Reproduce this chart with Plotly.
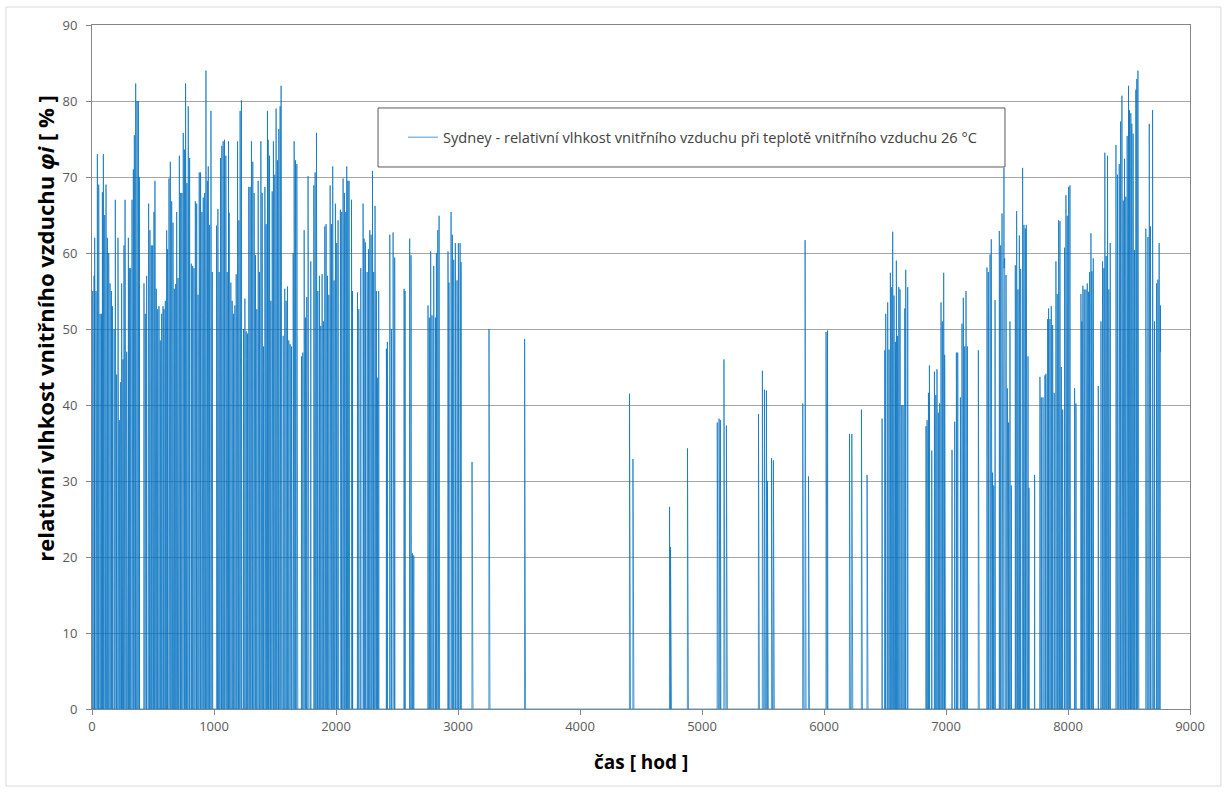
import numpy as np
import plotly.graph_objects as go

# Hourly indoor relative humidity, Sydney, indoor air held at 26 °C.
# Each operating interval starts at spike_hour with spike_peak, the next hour
# holds spike_low, and all other hours of the year are 0 %.
spike_hour = [
    6, 17, 22, 33, 44, 55, 66, 77, 85, 93, 104, 115, 126, 137, 148, 159, 167, 181, 191, 202,
    213, 224, 235, 243, 254, 262, 271, 284, 298, 306, 317, 328, 339, 347, 358, 369, 380, 388,
    426, 437, 448, 464, 475, 486, 497, 508, 516, 527, 538, 549, 560, 571, 582, 590, 601, 612,
    620, 631, 642, 653, 664, 675, 686, 694, 705, 716, 727, 737, 748, 759, 767, 778, 789, 800,
    814, 825, 836, 847, 858, 869, 879, 890, 901, 912, 923, 934, 945, 953, 964, 975, 986,
    1021, 1032, 1042, 1053, 1064, 1075, 1086, 1097, 1108, 1119, 1124, 1138, 1149, 1160, 1171,
    1182, 1193, 1204, 1214, 1225, 1242, 1253, 1264, 1275, 1285, 1296, 1307, 1318, 1329, 1340,
    1351, 1362, 1373, 1384, 1395, 1406, 1417, 1427, 1438, 1444, 1455, 1466, 1477, 1487, 1498,
    1509, 1520, 1531, 1542, 1550, 1567, 1580, 1591, 1602, 1613, 1624, 1635, 1649, 1657, 1668,
    1679, 1717, 1728, 1739, 1750, 1760, 1771, 1793, 1818, 1829, 1840, 1851, 1864, 1875, 1886,
    1897, 1908, 1919, 1930, 1941, 1952, 1963, 1973, 1984, 1995, 2006, 2017,
    2036, 2047, 2058, 2069, 2080, 2088, 2097, 2107, 2127, 2135, 2176, 2187, 2203, 2222, 2230,
    2241, 2255, 2266, 2277, 2288, 2299, 2309, 2320, 2331, 2339, 2350, 2413, 2421, 2441, 2454,
    2468, 2481, 2558, 2566, 2604, 2615, 2626, 2637, 2754, 2765, 2776, 2787, 2801, 2815, 2823,
    2834, 2845, 2918, 2926, 2943, 2954, 2965, 2978, 2992, 3003, 3017, 3025, 3115,
    3254, 3546, 4406, 4434, 4734, 4742, 4881, 5125, 5140, 5150, 5180, 5200,
    5463, 5495, 5512, 5528, 5536, 5570, 5585, 5826, 5845, 5873, 6017, 6028, 6209, 6228, 6307, 6353,
    6476, 6498, 6506, 6522, 6533, 6544, 6555, 6563, 6574, 6585, 6593, 6602, 6613, 6623, 6637,
    6648, 6662, 6670, 6686, 6836, 6845, 6856, 6864, 6883, 6905, 6916, 6926, 6937, 6948, 6959,
    6970, 6981, 6989, 7049, 7071, 7085, 7096, 7118, 7131, 7142, 7153, 7164, 7175, 7265,
    7336, 7347, 7361, 7371, 7382, 7391, 7402, 7437, 7448, 7459, 7470, 7475, 7481, 7492, 7503,
    7513, 7524, 7535, 7568, 7579, 7590, 7601, 7612, 7628, 7639, 7650, 7658, 7672, 7680, 7726,
    7770, 7781, 7795, 7811, 7819, 7833, 7841, 7852, 7863, 7874, 7887, 7901, 7912, 7923, 7934,
    7945, 7956, 7972, 7983, 7994, 8005, 8016, 8054, 8065, 8106, 8114, 8122, 8133, 8147, 8158,
    8169, 8177, 8188, 8196, 8207, 8248, 8270, 8283, 8294, 8302, 8313, 8324, 8335, 8346, 8393,
    8406, 8420, 8431, 8442, 8453, 8463, 8474, 8485, 8496, 8504, 8515, 8523, 8534, 8545, 8556,
    8564, 8573, 8638, 8655, 8666, 8676, 8693, 8709, 8726, 8737, 8747, 8758,
]

spike_peak = [
    55, 57, 62, 55, 73, 69, 52, 52, 68, 73, 65, 69, 62, 60, 56, 55, 53, 50, 67, 44,
    62, 38, 43, 56, 46, 61, 67, 47, 62, 58, 58, 67, 71, 75.5, 82.3, 80, 80, 70,
    56, 52, 57, 66.5, 63, 61, 61, 65.4, 69.5, 55.3, 52.6, 53, 48.5, 52, 53, 52.6, 53.7, 63,
    60.5, 69.8, 72, 66.8, 64, 55.3, 55.9, 65.4, 56.7, 72.8, 67.9, 67.9, 75.8, 73.6, 82.3, 69.2, 79.3, 72.5,
    58.6, 58.3, 58, 66.8, 66.5, 54.5, 70.6, 70.6, 65.4, 67.3, 67.9, 84, 69.5, 71.4, 63.7, 78.7, 57.5,
    63.6, 65.8, 57.5, 72.5, 74.1, 74.7, 74.9, 72.8, 57.5, 74.7, 65.3, 56.1, 53.7, 52, 53.1,
    57.2, 74.7, 64.3, 78.7, 80.1, 50, 54, 49.7, 49.4, 68.7, 68.7, 74.7, 72, 67.9, 59.7,
    52.6, 69.5, 57.5, 74.7, 67.9, 47.7, 68.7, 63.8, 78.7, 74.9, 72.8, 53.7, 68.1, 74.7, 70.3,
    79, 72.2, 76.3, 79.3, 82, 49.1, 55.3, 53.7, 55.6, 48.5, 48, 47.7, 60, 74.7, 72.2,
    71.7, 46.4, 46.9, 63, 51.5, 54.2, 70.1, 58.9, 68.9, 70.6, 75.8, 55, 57, 50.4, 57.2,
    51, 63.5, 63.8, 57, 54.5, 68.9, 63.8, 71.4, 56.4, 66.5, 61.3, 64.3,
    65.7, 65.4, 69.8, 67.9, 65.4, 71.4, 69.5, 69.5, 67, 55, 54.8, 52.6, 58, 66.5, 61.9,
    61.4, 57.5, 60.5, 63, 62.4, 70.8, 57.5, 66.2, 55, 43.6, 55, 47.4, 48.3, 62.4, 50,
    62.7, 59.4, 55.3, 55, 61.9, 59.7, 20.5, 20.2, 53.1, 51.5, 60.2, 51.8, 58.3, 51.5, 60,
    63, 64.9, 60.2, 56.1, 65.4, 62.4, 59.1, 61.3, 56.4, 61.3, 61.3, 58.8, 32.5,
    50, 48.7, 41.5, 32.9, 26.6, 21.3, 34.3, 37.7, 38.2, 38, 46, 37.3,
    38.8, 44.5, 42, 41.9, 30, 33, 32.7, 40.2, 61.7, 30.6, 49.6, 49.8, 36.2, 36.2, 39.4, 30.8,
    38.2, 47.2, 52, 53.5, 47.3, 57.4, 55.5, 62.8, 54.4, 48.3, 59, 49.1, 55.5, 55.2, 40,
    40, 52.7, 57.8, 55.5, 37.2, 38, 41.6, 45.2, 34, 44.4, 41.3, 44.7, 39, 40.2, 53.5,
    51, 57.4, 46.6, 34.1, 37.8, 46.9, 46.9, 41, 50.7, 54.1, 47.7, 55, 47.7, 47.2,
    58.1, 57.5, 59.8, 61.8, 31.1, 29.4, 53.8, 62.9, 61, 65.2, 66.8, 71.2, 59.3, 57.1, 42.2,
    37.7, 51, 29.4, 58.4, 65.5, 55.2, 62.3, 57.9, 71.2, 63.7, 63.2, 63.7, 46.4, 29.1, 30.8,
    43.7, 41, 41, 43.9, 44.1, 51.3, 52.7, 51.3, 53, 50.5, 41.6, 58.9, 54.6, 64.3, 64.2,
    45, 39.4, 60.7, 67.6, 64.9, 68.7, 68.9, 42.2, 40.2, 54.6, 51, 55.7, 55.2, 55.2, 56,
    54.9, 57.5, 62.6, 57.6, 59.3, 42.5, 51, 58.9, 58, 73.2, 59.6, 72.8, 55.2, 61.3, 74.2,
    70.3, 71.7, 77.3, 80.7, 66.9, 72.4, 67.4, 75.4, 82, 78.8, 78.4, 77, 75.7, 60.4, 81.5,
    82.9, 84, 63.2, 62.1, 77, 63.5, 78.8, 51, 56, 56.5, 61.3, 53.1,
]

spike_low = [
    50, 52, 55, 39, 64, 62, 50, 49, 60, 65, 57, 62, 58, 55, 52, 51, 50, 48, 58, 34,
    50, 36, 37, 46, 40, 52, 58, 36, 55, 54, 53, 55, 55, 56, 70, 72, 70, 62,
    50, 44, 50, 58, 55, 54, 52, 58, 60, 50, 48, 49, 45, 48, 49, 48, 50, 55,
    54, 60, 62, 58, 56, 50, 50, 57, 52, 62, 58, 60, 64, 62, 68, 58, 66, 58,
    52, 52, 52, 58, 52, 50, 60, 52, 56, 58, 56, 66, 58, 60, 44.7, 64, 52,
    55, 57, 52, 62, 64, 72, 66, 58, 52, 62, 58, 52, 50, 49, 50,
    52, 55, 56, 48, 66, 47, 50, 46, 46, 58, 53, 52, 62, 58, 54,
    49, 52, 52, 60, 58, 45, 58, 55, 64, 70, 62, 50, 58, 48, 47,
    62, 60, 50, 60, 53, 46, 50, 50, 50, 45, 39.5, 44, 50.7, 62, 64,
    62, 44, 44, 55, 48, 50, 47, 54, 58, 60, 60, 50, 52, 47, 52,
    48, 55, 55, 52, 50, 58, 55, 60, 52, 57, 55, 56,
    51, 55, 47, 56, 56, 60, 58, 56, 58, 50, 50, 49, 52, 56, 55,
    55, 52, 54, 55, 55, 58, 50, 56, 50, 41, 50, 45, 46, 55, 47,
    55, 54, 52, 52, 55, 54, 20, 20, 50, 48, 54, 48, 52, 48, 54,
    55, 56, 54, 52, 56, 55, 54, 55, 52, 55, 55, 54, 32.5,
    50, 48.7, 41.5, 32.9, 26.6, 21.3, 34.3, 37.7, 38.2, 38, 46, 37.3,
    38.8, 44.5, 42, 41.9, 30, 33, 32.7, 40.2, 61.7, 30.6, 49.6, 49.8, 36.2, 36.2, 39.4, 30.8,
    36, 44, 48, 50, 44, 52, 50, 54, 40, 45, 52, 46, 50, 50, 38,
    38, 48, 52, 50, 35, 36, 39, 41, 33, 41, 39, 41, 37, 38, 48,
    46, 50, 39, 33, 36, 43, 43, 39, 46, 48, 44, 50, 44, 47.2,
    52, 52, 54, 54, 30, 28, 48, 56, 55, 56, 50, 58, 52, 52, 29,
    34, 46, 28, 52, 56, 51, 55, 52, 60, 56, 56, 51, 44, 28, 30,
    41, 39, 39, 41, 41, 47, 48, 47, 48, 46, 39, 52, 50, 56, 56,
    42, 37, 54, 58, 55, 58, 58, 40, 38, 50, 47, 50, 50, 47, 50,
    50, 52, 55, 52, 53, 40, 47, 52, 52, 60, 54, 60, 50, 55, 60,
    58, 56, 62, 64, 56, 60, 50, 60, 66, 62, 56, 62, 60, 55, 64,
    70, 61, 55, 55, 62, 55, 60, 47, 50, 50, 54, 47,
]

hours = np.arange(8760)
phi = np.zeros(8760)
for h, peak, low in zip(spike_hour, spike_peak, spike_low):
    phi[h] = peak
    if h + 1 < 8760:
        phi[h + 1] = low

fig = go.Figure()
fig.add_trace(go.Scatter(
    x=hours, y=phi, mode="lines",
    line=dict(color="#0070C0", width=0.7),
    name="Sydney - relativní vlhkost vnitřního vzduchu při teplotě vnitřního vzduchu 26 °C",
    showlegend=True,
))

tick_font = dict(family="Open Sans", size=13, color="#595959")

fig.update_layout(
    width=1228, height=792,
    margin=dict(l=92, r=38, t=25, b=83),
    paper_bgcolor="white", plot_bgcolor="white",
    xaxis=dict(
        range=[0, 9000], tickmode="array", tickvals=list(range(0, 9001, 1000)),
        showgrid=False, zeroline=False,
        showline=True, linecolor="#868686", linewidth=1, mirror=True,
        ticks="outside", ticklen=5, tickcolor="#868686",
        tickfont=tick_font,
    ),
    yaxis=dict(
        range=[0, 90], tickmode="array", tickvals=list(range(0, 91, 10)),
        showgrid=True, gridcolor="#a6a6a6", gridwidth=1, zeroline=False,
        showline=True, linecolor="#868686", linewidth=1, mirror=True,
        ticks="outside", ticklen=5, tickcolor="#868686",
        tickfont=tick_font, ticklabelstandoff=6,
    ),
    legend=dict(
        x=0.2832, y=0.836, xanchor="left", yanchor="middle",
        bgcolor="rgba(0,0,0,0)", borderwidth=0,
        font=dict(family="Open Sans", size=14.6, color="#404040"),
    ),
    showlegend=True,
)

# legend frame and chart frame
fig.add_shape(type="rect", xref="paper", yref="paper",
              x0=0.2605, x1=0.8315, y0=0.7924, y1=0.8787,
              line=dict(color="#595959", width=1), fillcolor="white", layer="above")
fig.add_shape(type="rect", xref="paper", yref="paper",
              x0=-0.0783, x1=1.0282, y0=-0.1126, y1=1.0263,
              line=dict(color="#d9d9d9", width=1), fillcolor="rgba(0,0,0,0)", layer="below")

fig.add_annotation(
    x=-0.0428, y=0.556, xref="paper", yref="paper", textangle=-90,
    text="<b>relativní vlhkost vnitřního vzduchu <i>φi</i> [ % ]</b>",
    showarrow=False, xanchor="center", yanchor="middle",
    font=dict(family="Open Sans", size=22, color="#000000"),
)
fig.add_annotation(
    x=0.5, y=-0.0775, xref="paper", yref="paper",
    text="<b>čas [ hod ]</b>",
    showarrow=False, xanchor="center", yanchor="middle",
    font=dict(family="Open Sans", size=19, color="#000000"),
)

fig.write_html("out.html")
